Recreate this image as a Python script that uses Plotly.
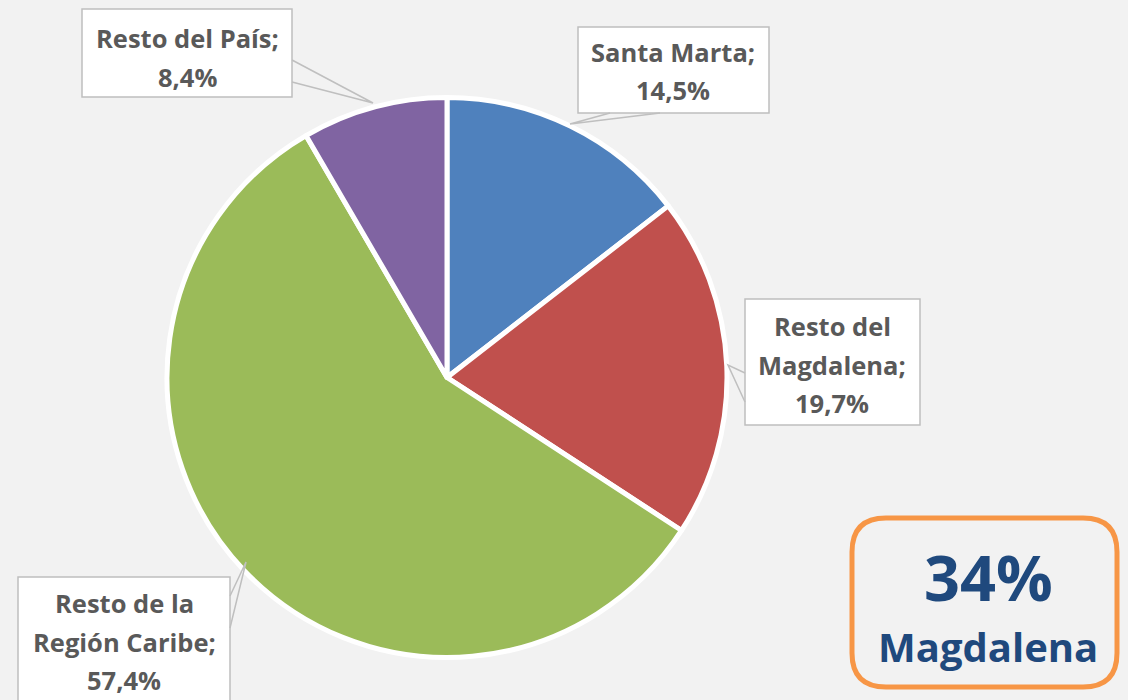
import plotly.graph_objects as go

# ---- data ----
categories = ["Santa Marta", "Resto del Magdalena", "Resto de la Región Caribe", "Resto del País"]
values = [14.5, 19.7, 57.4, 8.4]
label_lines = [["Santa Marta;"], ["Resto del", "Magdalena;"], ["Resto de la", "Región Caribe;"], ["Resto del País;"]]
colors = ["#4F81BD", "#C0504D", "#9BBB59", "#8064A2"]
summary_value = "34%"
summary_label = "Magdalena"

W, H = 1128, 700
BG = "#F2F2F2"
TXT = "#595959"
FONT = "Open Sans"

def px(x):
    return x / W

def py(y):
    return 1 - y / H

fig = go.Figure()
fig.add_trace(go.Pie(
    labels=categories, values=values, sort=False, direction="clockwise", rotation=0,
    marker=dict(colors=colors, line=dict(color="white", width=5)),
    textinfo="none", hoverinfo="label+percent", showlegend=False,
    domain=dict(x=[px(167), px(727)], y=[py(658), py(97)]),
))

# label boxes (pixel layout): box x0,y0,x1,y1, wedge points, text center x, first line y
boxes = [
    dict(box=(578, 27, 769, 113), wedge=[(610, 113), (570, 124), (660, 113)], cx=673, y0=52),
    dict(box=(745, 299, 920, 425), wedge=[(745, 373), (728, 365), (745, 402)], cx=832, y0=326),
    dict(box=(18, 577, 230, 712), wedge=[(230, 596), (246, 562), (230, 628)], cx=124, y0=603),
    dict(box=(82, 9, 292, 97), wedge=[(292, 60), (373, 103), (292, 82)], cx=187, y0=38),
]
LINE_H = 38.5
shapes = []
annotations = []
for i, b in enumerate(boxes):
    x0, y0, x1, y1 = b["box"]
    shapes.append(dict(type="rect", xref="paper", yref="paper",
                       x0=px(x0), x1=px(x1), y0=py(y0), y1=py(y1),
                       fillcolor="white", line=dict(color="#BFBFBF", width=1.5), layer="above"))
    (ax, ay), (bx, by), (cx, cy) = b["wedge"]
    path = f"M {px(ax)},{py(ay)} L {px(bx)},{py(by)} L {px(cx)},{py(cy)}"
    shapes.append(dict(type="path", xref="paper", yref="paper", path=path,
                       line=dict(color="#BFBFBF", width=1.5), layer="above"))
    pct = f"{values[i]:.1f}%".replace(".", ",")
    lines = label_lines[i] + [pct]
    for k, t in enumerate(lines):
        annotations.append(dict(x=px(b["cx"]), y=py(b["y0"] + k * LINE_H), xref="paper", yref="paper",
                                text=t, showarrow=False, xanchor="center", yanchor="middle",
                                font=dict(family=FONT, size=25.5, color=TXT, weight="bold")))

# summary rounded box
bx0, by0, bx1, by1 = 852, 518, 1117, 687
r = 34
path = (f"M {bx0 + r},{by0} L {bx1 - r},{by0} Q {bx1},{by0} {bx1},{by0 + r} "
        f"L {bx1},{by1 - r} Q {bx1},{by1} {bx1 - r},{by1} L {bx0 + r},{by1} "
        f"Q {bx0},{by1} {bx0},{by1 - r} L {bx0},{by0 + r} Q {bx0},{by0} {bx0 + r},{by0} Z")

def conv(p):
    res = []
    for tk in p.split(" "):
        if "," in tk:
            a, c = tk.split(",")
            res.append(f"{px(float(a)):.5f},{py(float(c)):.5f}")
        else:
            res.append(tk)
    return " ".join(res)

shapes.append(dict(type="path", xref="paper", yref="paper", path=conv(path),
                   line=dict(color="#F79646", width=5), fillcolor="rgba(0,0,0,0)"))
annotations.append(dict(x=px(988), y=py(576), xref="paper", yref="paper", text=summary_value,
                        showarrow=False, xanchor="center", yanchor="middle",
                        font=dict(family=FONT, size=63, color="#1F497D", weight="bold")))
annotations.append(dict(x=px(988), y=py(646), xref="paper", yref="paper", text=summary_label,
                        showarrow=False, xanchor="center", yanchor="middle",
                        font=dict(family=FONT, size=40, color="#1F497D", weight="bold")))

fig.update_layout(
    width=W, height=H, margin=dict(l=0, r=0, t=0, b=0),
    paper_bgcolor=BG, plot_bgcolor=BG,
    shapes=shapes, annotations=annotations,
)
fig.write_html("out.html", config={"displayModeBar": False},
               post_script="document.body.style.margin='0';document.body.style.overflow='hidden';")
